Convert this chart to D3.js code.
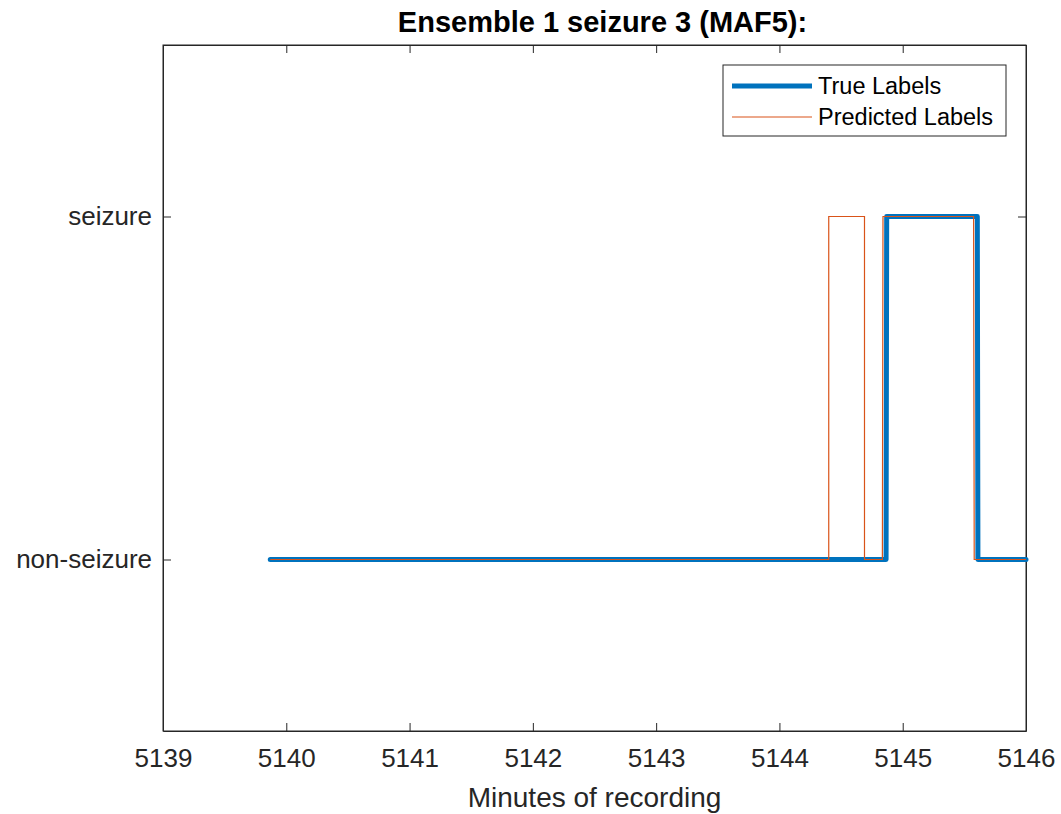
<!DOCTYPE html>
<html><head><meta charset="utf-8">
<script src="https://cdn.jsdelivr.net/npm/d3@7"></script>
<style>body{margin:0;background:#fff}svg{display:block}text{font-family:"Liberation Sans",Arial,sans-serif}</style>
</head><body>
<script>
const title = "Ensemble 1 seizure 3 (MAF5):";
const xLabel = "Minutes of recording";
const xTicks = [5139,5140,5141,5142,5143,5144,5145,5146];
const yTickValues = [0,1];
const yTickLabels = ["non-seizure","seizure"];
const seriesNames = ["True Labels","Predicted Labels"];
const trueTimes  = [5139.87,5144.865,5144.87,5145.605,5145.61,5146];
const trueValues = [0,0,1,1,0,0];
const predTimes  = [5139.87,5144.40,5144.40,5144.69,5144.69,5144.835,5144.84,5145.575,5145.58,5146];
const predValues = [0,0,1,1,0,0,1,1,0,0];

const W=1061,H=814;
const m={l:163,r:1026,t:45,b:731};
const svg=d3.select("body").append("svg").attr("width",W).attr("height",H);
const x=d3.scaleLinear().domain([5139,5146]).range([m.l,m.r]);
const y=d3.scaleLinear().domain([-0.5,1.5]).range([m.b,m.t]);
const axisCol="#262626";
const tl=8;

svg.append("rect").attr("x",m.l).attr("y",m.t).attr("width",m.r-m.l).attr("height",m.b-m.t)
  .attr("fill","#fff").attr("stroke",axisCol).attr("stroke-width",1);

const xb=svg.append("g").attr("transform",`translate(0,${m.b})`)
  .call(d3.axisBottom(x).tickValues(xTicks).tickFormat(d3.format("d")).tickSizeInner(-tl).tickSizeOuter(0).tickPadding(18));
const xt=svg.append("g").attr("transform",`translate(0,${m.t})`)
  .call(d3.axisTop(x).tickValues(xTicks).tickFormat("").tickSizeInner(-tl).tickSizeOuter(0));
const yl=svg.append("g").attr("transform",`translate(${m.l},0)`)
  .call(d3.axisLeft(y).tickValues(yTickValues).tickFormat((d,i)=>yTickLabels[i]).tickSizeInner(-tl).tickSizeOuter(0).tickPadding(11));
const yr=svg.append("g").attr("transform",`translate(${m.r},0)`)
  .call(d3.axisRight(y).tickValues(yTickValues).tickFormat("").tickSizeInner(-tl).tickSizeOuter(0));
[xb,xt,yl,yr].forEach(g=>{
  g.attr("font-family",null);
  g.select(".domain").attr("stroke",axisCol);
  g.selectAll(".tick line").attr("stroke",axisCol);
  g.selectAll(".tick text").attr("fill",axisCol).attr("font-size",26).style("font-size","26px");
});

const line=d3.line().x(d=>x(d[0])).y(d=>y(d[1]));
const trueData=trueTimes.map((t,i)=>[t,trueValues[i]]);
const predData=predTimes.map((t,i)=>[t,predValues[i]]);
svg.append("path").datum(trueData).attr("d",line).attr("fill","none")
  .attr("stroke","#0072BD").attr("stroke-width",5).attr("stroke-linejoin","round").attr("stroke-linecap","round");
svg.append("path").datum(predData).attr("d",line).attr("fill","none")
  .attr("stroke","#D95319").attr("stroke-width",1.2);

svg.append("text").attr("x",(m.l+m.r)/2+8).attr("y",32).attr("text-anchor","middle")
  .style("font-size","29px").style("font-weight","bold").attr("fill","#000").text(title);
svg.append("text").attr("x",(m.l+m.r)/2).attr("y",807).attr("text-anchor","middle")
  .style("font-size","28px").attr("fill",axisCol).text(xLabel);

const lg=svg.append("g");
lg.append("rect").attr("x",723).attr("y",65).attr("width",283).attr("height",71)
  .attr("fill","#fff").attr("stroke",axisCol).attr("stroke-width",1);
const cols=["#0072BD","#D95319"], widths=[5,1.2];
const lineY=[86,117], textY=[94,125];
seriesNames.forEach((n,i)=>{
  lg.append("line").attr("x1",732).attr("x2",812).attr("y1",lineY[i]).attr("y2",lineY[i])
    .attr("stroke",cols[i]).attr("stroke-width",widths[i]);
  lg.append("text").attr("x",818).attr("y",textY[i]).style("font-size","23.5px").attr("fill","#000").text(n);
});
</script>
</body></html>
